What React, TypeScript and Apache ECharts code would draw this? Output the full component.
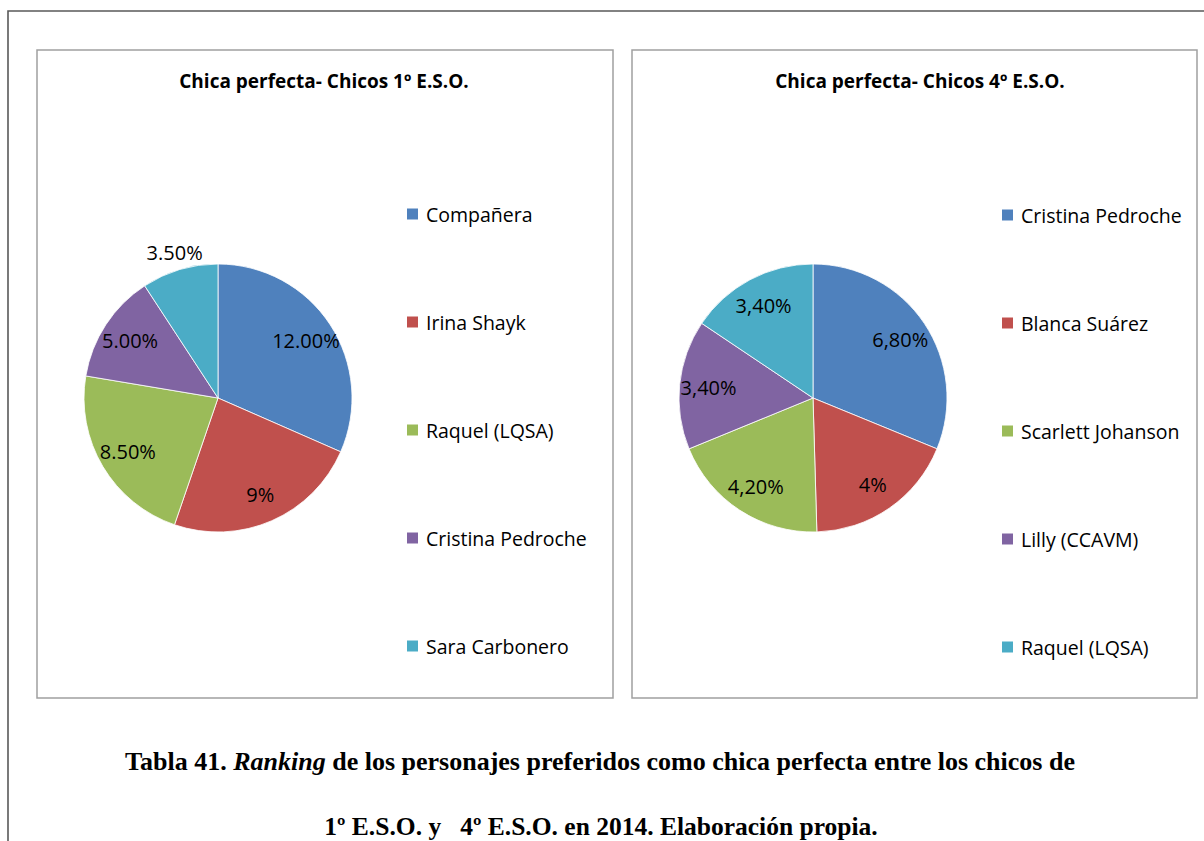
import { useEffect, useRef } from "react";
import * as echarts from "echarts";

const names1 = ["Compañera", "Irina Shayk", "Raquel (LQSA)", "Cristina Pedroche", "Sara Carbonero"];
const values1 = [12, 9, 8.5, 5, 3.5];
const labels1 = ["12.00%", "9%", "8.50%", "5.00%", "3.50%"];
const insideShow1 = [true, true, true, true, false];
const outsideShow1 = [false, false, false, false, true];

const names2 = ["Cristina Pedroche", "Blanca Suárez", "Scarlett Johanson", "Lilly (CCAVM)", "Raquel (LQSA)"];
const values2 = [6.8, 4, 4.2, 3.4, 3.4];
const labels2 = ["6,80%", "4%", "4,20%", "3,40%", "3,40%"];
const insideShow2 = [true, true, true, true, true];

const colors = ["#4F81BD", "#C0504D", "#9BBB59", "#8064A2", "#4BACC6"];

const title1 = "Chica perfecta- Chicos 1º E.S.O.";
const title2 = "Chica perfecta- Chicos 4º E.S.O.";
const captionLine1a = "Tabla 41. ";
const captionLine1b = "Ranking";
const captionLine1c = " de los personajes preferidos como chica perfecta entre los chicos de";
const captionLine2 = "1º E.S.O. y   4º E.S.O. en 2014. Elaboración propia.";

const FONT = "'Open Sans', 'DejaVu Sans', sans-serif";
const SERIF = "'Liberation Serif', 'Times New Roman', serif";
const R = 134;

function mainPie(center: number[], names: string[], values: number[]) {
  return {
    type: "pie",
    center,
    radius: R,
    startAngle: 90,
    clockwise: true,
    avoidLabelOverlap: false,
    silent: true,
    emphasis: { disabled: true },
    label: { show: false },
    labelLine: { show: false },
    itemStyle: { borderColor: "#ffffff", borderWidth: 0.8 },
    data: names.map((n, i) => ({ name: n, value: values[i], itemStyle: { color: colors[i] } })),
  };
}

function labelPie(center: number[], names: string[], values: number[], labels: string[], show: boolean[], radius: number[]) {
  return {
    type: "pie",
    center,
    radius,
    startAngle: 90,
    clockwise: true,
    avoidLabelOverlap: false,
    silent: true,
    emphasis: { disabled: true },
    itemStyle: { color: "rgba(0,0,0,0)", borderWidth: 0 },
    labelLine: { show: false },
    label: {
      show: true,
      position: "inside",
      color: "#000",
      fontFamily: FONT,
      fontSize: 20,
      formatter: (p: any) => labels[p.dataIndex],
    },
    data: names.map((n, i) => ({ name: n, value: values[i], label: { show: show[i] } })),
  };
}

function legendFor(names: string[], left: number, top: number) {
  return {
    orient: "vertical",
    left,
    top,
    icon: "rect",
    itemWidth: 13,
    itemHeight: 13,
    itemGap: 88,
    selectedMode: false,
    padding: 0,
    textStyle: { fontFamily: FONT, fontSize: 19.5, color: "#000", lineHeight: 20, padding: [0, 0, 0, 2] },
    data: names.map((n, i) => ({ name: n, itemStyle: { color: colors[i] } })),
  };
}

export default function App() {
  const ref = useRef<HTMLDivElement>(null);
  useEffect(() => {
    if (!ref.current) return;
    const chart = echarts.init(ref.current, null, { renderer: "svg" });
    chart.setOption({
      animation: false,
      backgroundColor: "#ffffff",
      title: [
        {
          text: title1,
          left: 319,
          top: 66,
          textAlign: "center",
          textStyle: { fontFamily: FONT, fontWeight: "bold", fontSize: 19, color: "#000", lineHeight: 20 },
        },
        {
          text: title2,
          left: 915,
          top: 66,
          textAlign: "center",
          textStyle: { fontFamily: FONT, fontWeight: "bold", fontSize: 19, color: "#000", lineHeight: 20 },
        },
      ],
      legend: [legendFor(names1, 405, 204), legendFor(names2, 1000, 205)],
      series: [
        mainPie([218, 398], names1, values1),
        labelPie([218, 398], names1, values1, labels1, insideShow1, [70, R]),
        labelPie([218, 398], names1, values1, labels1, outsideShow1, [R, 164]),
        mainPie([813, 398], names2, values2),
        labelPie([813, 398], names2, values2, labels2, insideShow2, [70, R]),
      ],
      graphic: [
        {
          type: "rect",
          silent: true,
          shape: { x: 8, y: 11, width: 1400, height: 1000 },
          style: { fill: "none", stroke: "#595959", lineWidth: 1.6 },
        },
        {
          type: "rect",
          silent: true,
          shape: { x: 37, y: 50, width: 576, height: 648 },
          style: { fill: "none", stroke: "#a0a0a0", lineWidth: 1.5 },
        },
        {
          type: "rect",
          silent: true,
          shape: { x: 632, y: 50, width: 565, height: 648 },
          style: { fill: "none", stroke: "#a0a0a0", lineWidth: 1.5 },
        },
        {
          type: "text",
          silent: true,
          x: 600,
          y: 761,
          style: {
            text: "{b|" + captionLine1a + "}{i|" + captionLine1b + "}{b|" + captionLine1c + "}",
            align: "center",
            verticalAlign: "middle",
            fill: "#000",
            fontFamily: SERIF,
            fontSize: 26,
            fontWeight: "bold",
            rich: {
              b: { fontFamily: SERIF, fontSize: 26, fontWeight: "bold", fill: "#000" },
              i: { fontFamily: SERIF, fontSize: 26, fontWeight: "bold", fontStyle: "italic", fill: "#000" },
            },
          },
        },
        {
          type: "text",
          silent: true,
          x: 601,
          y: 826,
          style: {
            text: captionLine2,
            align: "center",
            verticalAlign: "middle",
            fill: "#000",
            fontFamily: SERIF,
            fontSize: 25.5,
            fontWeight: "bold",
          },
        },
      ],
    });
    return () => chart.dispose();
  }, []);
  return (
    <div
      ref={ref}
      style={{ position: "absolute", left: 0, top: 0, width: 1204, height: 841 }}
    />
  );
}
